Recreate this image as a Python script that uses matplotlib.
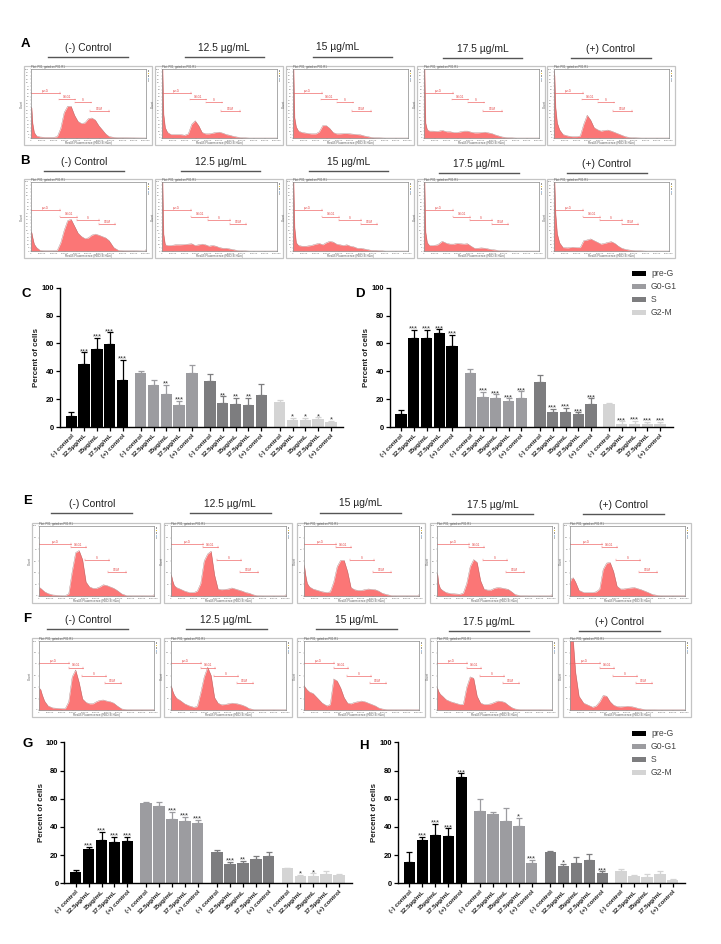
import matplotlib
matplotlib.use("Agg")
import matplotlib.pyplot as plt
from matplotlib.patches import Rectangle
from matplotlib.lines import Line2D
import numpy as np

plt.rcParams['font.family'] = ['Liberation Sans', 'DejaVu Sans']

W, H = 721, 944

# ---- labels
dose_titles = ["(-) Control", "12.5 µg/mL", "15 µg/mL", "17.5 µg/mL", "(+) Control"]
bar_labels = ["(-) control", "12.5µg/mL", "15µg/mL", "17.5µg/mL", "(+) control"]
phases = ["pre-G", "G0-G1", "S", "G2-M"]
phase_colors = ["#000000", "#9c9ca0", "#7d7d7f", "#d4d4d4"]

# ---- bar chart values (means, top of error bar, significance), one row per phase
c_means = [[8, 45.5, 56, 59.5, 34], [38.5, 30, 23.5, 16, 38.5], [33, 17.5, 16.5, 16, 23], [18, 5, 5, 6, 3.5]]
c_tops = [[11, 53.5, 64, 68, 48], [40.2, 33.5, 30, 19, 44.5], [38, 22, 21, 21, 31], [19.5, 6.5, 6.5, 7, 4.5]]
c_stars = [["", "***", "***", "***", "***"], ["", "", "**", "***", ""], ["", "**", "**", "**", ""], ["", "*", "*", "*", "*"]]

d_means = [[9, 64, 64, 67.5, 58.5], [38.5, 21.5, 21, 18.5, 21], [32.5, 11, 11, 9.5, 16.5], [16.5, 2.5, 2.5, 2.5, 2.5]]
d_tops = [[12.5, 69.5, 69.5, 70, 66], [41.5, 25, 23.5, 20.5, 25.5], [37, 13, 13.5, 10.5, 20.5], [17, 4, 4.2, 3.5, 3.8]]
d_stars = [["", "***", "***", "***", "***"]] * 4

g_means = [[8, 24, 31, 29, 30], [57, 55, 45.5, 44, 43], [22, 13.5, 14.5, 17.5, 19.5], [10.5, 5.5, 5.5, 6.5, 6.2]]
g_tops = [[9.2, 26, 36.5, 33, 33], [58, 58, 50.5, 47, 44.8], [23.5, 15, 15.7, 19.3, 22.3], [11.2, 5.8, 7, 8.6, 6.8]]
g_stars = [["", "***", "***", "***", "***"], ["", "", "***", "***", "***"], ["", "***", "**", "", ""], ["", "*", "*", "", ""]]

h_means = [[15, 31, 34, 33.5, 75.5], [51, 49.5, 44, 40.5, 14.5], [22, 12, 14.2, 16.5, 7], [9, 5.5, 4.8, 6.3, 2]]
h_tops = [[22, 33, 42, 39, 78], [59.5, 50.8, 53.5, 46.5, 16.5], [22.7, 13.7, 18.5, 20.5, 8.5], [10.3, 5.8, 6.3, 8.7, 2.8]]
h_stars = [["", "***", "***", "***", "***"], ["", "", "", "*", "***"], ["", "*", "", "", "***"], ["", "", "", "", ""]]

# ---- histograms, x in thousands, height in % of the plot frame
hist_x = [0, 8, 16, 30, 50, 80, 120, 160, 200, 230, 260, 290, 320, 350, 380, 410, 440, 470, 500, 530,
          560, 590, 620, 650, 680, 720, 760, 800, 990, 1000]

hist_a = [
    [45, 44, 22, 8, 3, 1.5, 1, 1, 1, 2, 14, 37, 46, 46, 33, 24, 21, 22, 28, 29, 26, 18, 12, 6, 2, 1, .5, .3, 0, 0],
    [100, 100, 35, 15, 8, 5, 5, 5, 4, 6, 20, 25, 18, 8, 6, 6, 7, 8, 8.5, 7, 5, 4, 2.5, 1.5, .7, .3, 0, 0, 0, 0],
    [100, 100, 30, 16, 10, 8, 7, 6, 6, 9, 18, 18, 14, 8, 6, 6, 6.5, 6.5, 6, 5.5, 5, 4.5, 3, 2, 1, .4, .2, 0, 0, 0],
    [100, 100, 22, 12, 10, 10, 9.5, 11, 9, 9, 8, 8, 9, 10, 10, 8.5, 7.5, 7.5, 8, 8.5, 7.5, 6.5, 4.5, 3, 1.5, .7, .3, 0, 0, 0],
    [100, 90, 45, 22, 12, 5, 3, 2, 2, 3, 20, 33, 26, 15, 12, 10, 11, 11.5, 10, 8, 6, 4, 2, 1, .5, .2, 0, 0, 0, 0],
]
hist_b = [
    [28, 27, 20, 10, 5, 1, .5, .5, .5, 1, 12, 30, 44, 46, 36, 26, 21, 18, 19, 23, 24.5, 23, 21, 19, 15, 5, 1, .7, 0, 2],
    [100, 100, 25, 9, 8, 8, 9, 9, 9.5, 10, 10.5, 8, 9, 10, 9, 7, 8, 7, 5, 4, 4, 3, 2, 1, .5, .3, 0, 0, 0, 0],
    [100, 100, 35, 12, 8, 7, 7, 8, 10, 11, 9, 12, 14, 13, 10, 9, 8, 9, 7, 6, 4, 4, 3, 2, 1, 1, .5, 0, 0, 0],
    [100, 100, 28, 12, 8, 8, 9, 14, 11, 10, 10, 11, 10.5, 10, 10.5, 7, 4, 4, 4.5, 4, 3, 2, 1.5, .7, .5, .3, 0, 0, 0, 0],
    [100, 100, 55, 25, 12, 5, 4.5, 5.5, 5, 5, 15, 16, 17.5, 15, 12.5, 10, 11, 12.5, 13.5, 11, 7, 4, 2.5, 1.5, 1, .5, .2, 0, 0, 0],
]
hist_e = [
    [10, 12, 11, 9, 6, 3.5, 1.5, 1, .7, .7, 3, 35, 62, 65, 52, 20, 13, 11, 11, 13, 16, 15, 13, 11, 8, 3, .7, .3, .2, 2],
    [31, 28, 22, 15, 12, 10, 7, 5, 5, 7, 18, 50, 60, 64, 30, 10, 9, 9.5, 10, 11.5, 10, 8.5, 7, 5, 4, 1.5, .3, .2, .2, 2],
    [45, 40, 30, 18, 13, 10, 8, 6, 5, 6, 20, 42, 51, 51, 35, 12, 9, 8, 8, 9, 10, 9.5, 9, 7, 4, 2, .7, .3, .2, 2],
    [33, 30, 18, 11, 8, 5, 3.5, 3, 2.5, 4, 18, 42, 52, 48, 22, 10, 8.5, 8.5, 11, 12, 11.5, 10.5, 9.5, 6, 2, .7, .3, .2, .2, 2],
    [18, 22, 25, 26, 20, 8, 5, 5, 5, 6, 10, 38, 47, 48, 35, 14, 10, 10, 11, 11.5, 12, 10.5, 9, 7, 5, 2, 1, .5, .2, .5],
]
hist_f = [
    [30, 31, 30, 22, 13, 6, 3, 2.5, 2, 2, 12, 48, 58, 40, 16, 11, 9, 9, 12, 14, 14.5, 13, 12, 10, 6, 1.5, .7, .5, .3, .3],
    [36, 33, 28, 22, 17, 14, 9, 6, 4, 5, 25, 48, 62, 50, 18, 10, 7.5, 8, 9, 10, 9.5, 8.5, 7, 5, 2, .7, .4, .3, .2, .3],
    [36, 34, 32, 29, 26, 24, 17, 10, 6, 8, 45, 42, 32, 18, 10, 9, 11, 12, 13, 12, 10, 8, 6, 3, 1.5, .7, .4, .3, .2, .3],
    [33, 31, 27, 23, 20, 15, 12, 10, 8, 8, 33, 48, 46, 20, 10, 8, 8, 9, 11, 13, 12.5, 11, 7, 3.5, 1.5, .7, .4, .3, .2, .3],
    [100, 100, 100, 100, 55, 20, 10, 7, 4, 6, 12, 21, 20, 12, 7, 5, 4.5, 5, 5.5, 5, 4, 2.5, 1.5, .8, .4, .3, .2, .2, .2, .2],
]

# gate markers per row: start, end, height
gates_a = [(0, 255, 65), (246, 385, 56), (380, 525, 51.5), (515, 675, 39)]
gates_b = [(0, 255, 59), (255, 405, 50), (405, 590, 45), (590, 733, 39)]
gates_e = [(0, 279, 74), (279, 408, 70), (405, 606, 51), (598, 756, 34)]
gates_f = [(0, 258, 68), (258, 385, 61), (374, 580, 49), (574, 710, 39)]
gate_names = ["pre-G", "G0-G1", "S", "G2-M"]


fig = plt.figure(figsize=(W / 100, H / 100), dpi=100, facecolor="white")


def px_axes(x0, y0, x1, y1):
    return fig.add_axes([x0 / W, 1 - y1 / H, (x1 - x0) / W, (y1 - y0) / H])


def ftext(x, y, s, **kw):
    fig.text(x / W, 1 - y / H, s, **kw)


def fline(x0, x1, y, color="#555555", lw=1.0):
    fig.add_artist(Line2D([x0 / W, x1 / W], [1 - y / H, 1 - y / H], color=color, lw=lw))


def frect(x0, y0, x1, y1, **kw):
    fig.add_artist(Rectangle((x0 / W, 1 - y1 / H), (x1 - x0) / W, (y1 - y0) / H,
                             transform=fig.transFigure, **kw))


def draw_hist(left, top, bottom, heights, gates, n_yticks, width=128):
    right = left + width
    # zorder below the axes, otherwise the frame hides the plot
    frect(left, top - 3, right, bottom + 7, fc="white", ec="#c4c4c4", lw=0.9, zorder=-1)
    # little tool icons to the right of the plot
    for k, col in enumerate(["#9a9a9a", "#e5c23a", "#9a9a9a", "#a8c4e0", "#bbbbbb"]):
        frect(right - 4.4, top + 1 + k * 2.6, right - 2.6, top + 2.8 + k * 2.6, fc=col, ec="none")
    ax = px_axes(left + 6.8, top, right - 6, bottom)
    ax.fill_between(hist_x, heights, 0, color="#fb7676", lw=0)
    ax.plot(hist_x, heights, color="#a06a6a", lw=0.25)
    ax.set_xlim(0, 1000)
    ax.set_ylim(0, 100)
    ax.set_xticks(range(0, 1001, 100))
    ax.set_xticklabels([str(v * 1000) for v in range(0, 1001, 100)], fontsize=1.7, color="#666666")
    yt = np.linspace(0, 100, n_yticks)
    ax.set_yticks(yt)
    ax.set_yticklabels([str(int(round(v))) for v in yt], fontsize=1.7, color="#666666")
    ax.tick_params(length=0.8, width=0.2, pad=0.4, color="#777777")
    for s in ax.spines.values():
        s.set_linewidth(0.5)
        s.set_color("#888888")
    ax.set_xlabel("Red-B Fluorescence (RED-B-HLin)", fontsize=2.2, color="#555555", labelpad=0.4)
    ax.set_ylabel("Count", fontsize=2.2, color="#555555", labelpad=0.5)
    ax.set_title("Plot: P01, gated on P01.R1", fontsize=2, color="#555555", loc="left", pad=0.3, x=0.0)
    for (g0, g1, gy), name in zip(gates, gate_names):
        ax.plot([g0, g1], [gy, gy], color="#f06a6a", lw=0.5)
        ax.plot([g0, g0], [gy - 1.2, gy + 1.2], color="#f06a6a", lw=0.3)
        ax.plot([g1, g1], [gy - 1.2, gy + 1.2], color="#f06a6a", lw=0.3)
        ax.text((g0 + g1) / 2, gy + 0.6, name, fontsize=2, color="#e03030", ha="center", va="bottom")


def draw_heads(centers, text_ys, spans, line_ys):
    for s, cx, ty, (x0, x1), ly in zip(dose_titles, centers, text_ys, spans, line_ys):
        ftext(cx, ty, s, fontsize=7.4, ha="center", va="center", color="#222222")
        fline(x0, x1, ly)


def draw_bars(box, first, step, means, tops, stars):
    x0, y0, x1, y1 = box
    ax = px_axes(x0, y0, x1, y1)
    unit = 1 / step
    ticks = []
    for g in range(4):
        xs = [(first[g] + i * step) * unit for i in range(5)]
        m = np.array(means[g], dtype=float)
        t = np.array(tops[g], dtype=float)
        ax.bar(xs, m, width=0.88, color=phase_colors[g], lw=0, label=phases[g])
        ax.errorbar(xs, m, yerr=[np.zeros(5), t - m], fmt="none", ecolor=phase_colors[g],
                    elinewidth=0.9, capsize=2.2, capthick=0.9)
        for xv, tv, st in zip(xs, t, stars[g]):
            if st:
                ax.text(xv, tv + 0.6, st, fontsize=5.5, ha="center", va="center", color="#333333")
        ticks += xs
    ax.set_xlim(0, (x1 - x0) * unit)
    ax.set_ylim(0, 100)
    ax.set_yticks([0, 20, 40, 60, 80, 100])
    ax.set_xticks(ticks)
    ax.set_xticklabels(bar_labels * 4, rotation=45, ha="right", rotation_mode="anchor",
                       fontsize=4.6, fontweight="bold", color="#222222")
    ax.tick_params(axis="y", labelsize=5.4, length=3, width=0.9, pad=1.2)
    ax.tick_params(axis="x", length=3, width=0.9, pad=1.2)
    for lab in ax.get_yticklabels():
        lab.set_fontweight("bold")
    ax.spines["top"].set_visible(False)
    ax.spines["right"].set_visible(False)
    ax.spines["left"].set_linewidth(1.0)
    ax.spines["bottom"].set_linewidth(1.0)
    ax.patch.set_alpha(0)
    ax.set_ylabel("Percent of cells", fontsize=5.8, fontweight="bold", color="#222222", labelpad=1)
    return ax


# ---- panel letters
for s, x, y in [("A", 25, 44), ("B", 25, 160.7), ("C", 26.7, 294), ("D", 360, 294),
                ("E", 27.3, 500.7), ("F", 26.7, 619), ("G", 28, 744), ("H", 364, 745.7)]:
    ftext(x, y, s, fontsize=9.5, fontweight="bold", ha="center", va="center", color="black")

# ---- dose headings
draw_heads([88, 224.3, 338, 482.7, 611], [47.7, 47.7, 47, 49.3, 49.3],
           [(48.3, 127.7), (185, 264), (313.3, 392.3), (443, 522.3), (571, 650.7)],
           [56.7, 56.7, 56.7, 58.3, 58.3])
draw_heads([84.3, 220.7, 349, 479, 607], [162.3, 162.3, 162.3, 164.3, 164.3],
           [(44.3, 124), (181, 260.3), (309.3, 388.3), (439, 518.7), (567.3, 646.7)],
           [171.3, 171.3, 171.3, 173.3, 173.3])
draw_heads([91.7, 230.3, 360.7, 493, 623.3], [503.7, 503.7, 503.3, 505.3, 505.3],
           [(51.3, 132), (190, 270.7), (320.3, 401), (452.3, 533), (583, 663.7)],
           [512.7, 512.7, 512.7, 514.3, 514.3])
draw_heads([87.7, 226.3, 356.7, 489, 619.3], [620.3, 620.3, 620.3, 622, 622],
           [(47.3, 128), (186, 266.7), (316.3, 397), (448.7, 529.3), (579, 659.7)],
           [629.3, 629.3, 629.3, 631, 631])

# ---- histogram rows
for left, h in zip([24, 155, 286, 417, 547], hist_a):
    draw_hist(left, 69, 138, h, gates_a, 21)
for left, h in zip([24, 155, 286, 417, 547], hist_b):
    draw_hist(left, 182, 251, h, gates_b, 21)
for left, h in zip([32, 164, 297, 430, 563], hist_e):
    draw_hist(left, 526, 596, h, gates_e, 7)
for left, h in zip([32, 164, 297, 430, 563], hist_f):
    draw_hist(left, 641, 710, h, gates_f, 7)

# ---- bar charts, group centres measured in pixels from the y axis
ax_c = draw_bars((60, 287.7, 342.7, 427), [11.3, 80.7, 150, 219.7], 12.8, c_means, c_tops, c_stars)
ax_d = draw_bars((390, 287.7, 672.7, 427), [11, 80.3, 150, 219], 12.75, d_means, d_tops, d_stars)
ax_g = draw_bars((64.3, 742.3, 351.7, 883.3), [11.3, 81.7, 152.7, 223], 12.95, g_means, g_tops, g_stars)
ax_h = draw_bars((397.7, 742.3, 685, 883.3), [11.7, 82.3, 152.7, 223.3], 12.95, h_means, h_tops, h_stars)

# ---- legends
for ax, ltop in [(ax_d, 269.5), (ax_h, 729.5)]:
    hs, ls = ax.get_legend_handles_labels()
    ax.legend(hs, ls, loc="upper left", bbox_to_anchor=(632 / W, 1 - ltop / H),
              bbox_transform=fig.transFigure, frameon=False, fontsize=6.2, labelspacing=0.46,
              handlelength=1.6, handleheight=0.6, handletextpad=0.6, borderaxespad=0, borderpad=0,
              labelcolor="#444444")

fig.savefig("out.png", dpi=100)
